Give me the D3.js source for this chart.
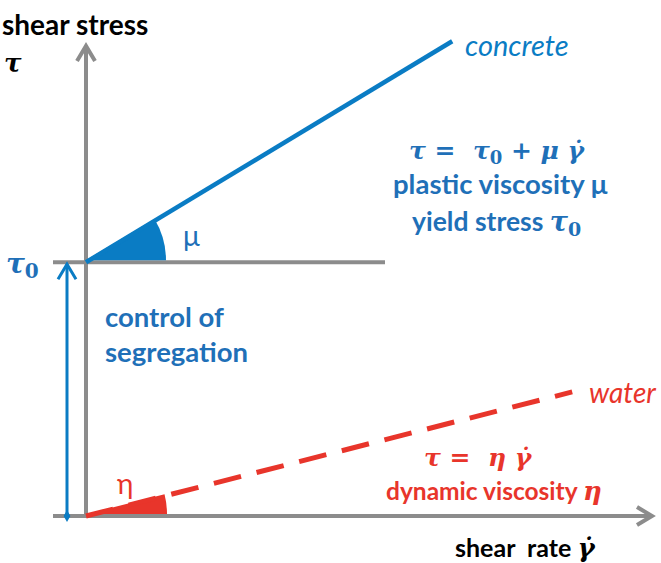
<!DOCTYPE html>
<html>
<head>
<meta charset="utf-8">
<script src="https://cdn.jsdelivr.net/npm/d3@7"></script>
<style>
  body { margin: 0; background: #fff; }
  text { font-family: Lato, "Open Sans", sans-serif; white-space: pre; }
  .math { font-family: "DejaVu Serif", serif; font-style: italic; font-weight: bold; }
  .sub { font-family: "DejaVu Serif", serif; font-style: normal; font-weight: bold; }
</style>
</head>
<body>
<div id="chart"></div>
<script>
var width = 661;
var height = 563;

// schematic values (shear rate, shear stress in arbitrary units)
var concreteRate = [0, 6.47];
var concreteStress = [5.4, 10.1];
var waterRate = [0, 8.59];
var waterStress = [0, 2.64];
var yieldStress = 5.4;

var blue = '#0a7cc4';
var blueText = '#1f70b8';
var red = '#e8352b';
var gray = '#8c8c8c';

var svg = d3.select('#chart').append('svg')
  .attr('width', width)
  .attr('height', height);

var x = d3.scaleLinear().domain([0, 10]).range([86, 652]);
var y = d3.scaleLinear().domain([0, 10]).range([516, 46]);

// axes
svg.append('line')
  .attr('x1', x(0)).attr('y1', y(0))
  .attr('x2', x(0)).attr('y2', y(10) + 2)
  .attr('stroke', gray).attr('stroke-width', 4);
svg.append('line')
  .attr('x1', 53).attr('y1', y(0))
  .attr('x2', x(10)).attr('y2', y(0))
  .attr('stroke', gray).attr('stroke-width', 4);
// yield stress guide
svg.append('line')
  .attr('x1', 53).attr('y1', y(yieldStress))
  .attr('x2', 385).attr('y2', y(yieldStress))
  .attr('stroke', gray).attr('stroke-width', 4);

function chevron(px, py, dir, color, w) {
  // dir: 'up' or 'right'
  var pts = dir === 'up'
    ? [[px - 9, py + 15], [px, py], [px + 9, py + 15]]
    : [[px - 15, py - 9], [px, py], [px - 15, py + 9]];
  svg.append('path')
    .attr('d', d3.line()(pts))
    .attr('fill', 'none')
    .attr('stroke', color)
    .attr('stroke-width', w)
    .attr('stroke-linejoin', 'miter');
}
chevron(x(0), y(10), 'up', gray, 4);
chevron(x(10), y(0), 'right', gray, 4);

// angle wedges
function wedge(rate, stress, x0, y0, r, color) {
  var ang = Math.atan2(y(stress[0]) - y(stress[1]), x(rate[1]) - x(rate[0]));
  var arc = d3.arc()
    .innerRadius(0).outerRadius(r)
    .startAngle(Math.PI / 2 - ang).endAngle(Math.PI / 2);
  svg.append('path')
    .attr('d', arc())
    .attr('transform', 'translate(' + x0 + ',' + y0 + ')')
    .attr('fill', color);
}
wedge(concreteRate, concreteStress, x(0), y(yieldStress) - 2, 80, blue);
wedge(waterRate, waterStress, x(0) + 1, y(0) - 2, 80, red);

var line = d3.line()
  .x(function (d) { return x(d[0]); })
  .y(function (d) { return y(d[1]); });

svg.append('path')
  .attr('d', line(d3.zip(concreteRate, concreteStress)))
  .attr('stroke', blue).attr('stroke-width', 4.5).attr('fill', 'none');

svg.append('path')
  .attr('d', line(d3.zip(waterRate, waterStress)))
  .attr('stroke', red).attr('stroke-width', 5).attr('fill', 'none')
  .attr('stroke-dasharray', '28,16');

// yield stress arrow
svg.append('line')
  .attr('x1', 67).attr('y1', y(0))
  .attr('x2', 67).attr('y2', y(yieldStress) + 2)
  .attr('stroke', blue).attr('stroke-width', 3);
chevron(67, y(yieldStress) + 2, 'up', blue, 3);
svg.append('path')
  .attr('d', d3.symbol().type(d3.symbolDiamond).size(40)())
  .attr('transform', 'translate(67,' + y(0) + ')')
  .attr('fill', blue);

// labels
function label(tx, ty, str, opts) {
  opts = opts || {};
  return svg.append('text')
    .attr('x', tx).attr('y', ty)
    .attr('font-size', opts.size || 24)
    .attr('font-weight', opts.weight || 'bold')
    .attr('font-style', opts.style || 'normal')
    .attr('text-anchor', opts.anchor || 'start')
    .attr('fill', opts.color || '#000')
    .text(str);
}

label(2, 35, 'shear stress', { size: 28 });
svg.append('text').attr('class', 'math').attr('x', 4).attr('y', 72)
  .attr('font-size', 26).text('τ');

svg.append('text').attr('class', 'math').attr('x', 6).attr('y', 273)
  .attr('font-size', 28).attr('fill', blueText)
  .call(function (t) {
    t.append('tspan').text('τ');
    t.append('tspan').attr('class', 'sub').attr('dy', 5).attr('font-size', 20).text('0');
  });

label(465, 56, 'concrete', { size: 29, weight: 'normal', style: 'italic', color: blue });
label(589, 403, 'water', { size: 28, weight: 'normal', style: 'italic', color: red });

label(183, 246, 'μ', { size: 28, weight: 'normal', color: blueText });
label(117, 494, 'η', { size: 28, weight: 'normal', color: red });

label(105, 327, 'control of', { size: 27.5, color: blueText });
label(105, 362, 'segregation', { size: 27.5, color: blueText });

// concrete equation
svg.append('text').attr('class', 'math').attr('x', 409).attr('y', 159)
  .attr('font-size', 25).attr('fill', blueText)
  .call(function (t) {
    t.append('tspan').text('τ =  τ');
    t.append('tspan').attr('class', 'sub').attr('dy', 5).attr('font-size', 18).text('0');
    t.append('tspan').attr('dy', -5).text(' + μ γ\u0307');
  });
label(393, 194, 'plastic viscosity μ', { size: 27.5, color: blueText });
svg.append('text').attr('x', 412).attr('y', 231)
  .attr('font-size', 26.5).attr('font-weight', 'bold').attr('fill', blueText)
  .call(function (t) {
    t.append('tspan').text('yield stress ');
    t.append('tspan').attr('class', 'math').attr('font-size', 27).text('τ');
    t.append('tspan').attr('class', 'sub').attr('dy', 5).attr('font-size', 19).text('0');
  });

// water equation
svg.append('text').attr('class', 'math').attr('x', 424).attr('y', 466)
  .attr('font-size', 25).attr('fill', red)
  .text('τ =  η γ\u0307');
svg.append('text').attr('x', 386).attr('y', 500)
  .attr('font-size', 24.5).attr('font-weight', 'bold').attr('fill', red)
  .call(function (t) {
    t.append('tspan').text('dynamic viscosity ');
    t.append('tspan').attr('class', 'math').attr('font-size', 26).text('η');
  });

svg.append('text').attr('x', 455).attr('y', 557)
  .attr('font-size', 25).attr('font-weight', 'bold').attr('fill', '#000')
  .call(function (t) {
    t.append('tspan').text('shear  rate ');
    t.append('tspan').attr('class', 'math').attr('font-size', 26).text('γ\u0307');
  });
</script>
</body>
</html>
